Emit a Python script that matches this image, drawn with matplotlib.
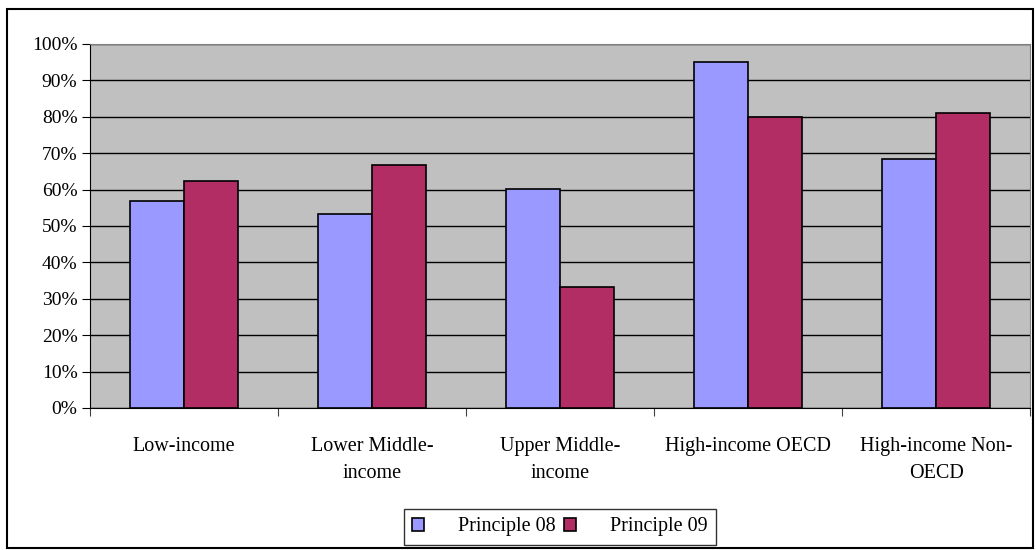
import numpy as np, matplotlib
matplotlib.use("Agg"); import matplotlib.pyplot as plt
from matplotlib.patches import Rectangle
from matplotlib.ticker import PercentFormatter

categories = ["Low-income", "Lower Middle-\nincome", "Upper Middle-\nincome",
              "High-income OECD", "High-income Non-\nOECD"]
principle_08 = [56.9, 53.2, 60.2, 95.0, 68.5]
principle_09 = [62.4, 66.7, 33.2, 80.0, 81.0]
series_names = ["Principle 08", "Principle 09"]

plt.rcParams['font.family'] = ['Liberation Serif', 'DejaVu Serif']
fig = plt.figure(figsize=(10.36, 5.5), dpi=100)
fig.patches.append(Rectangle((0.007, 0.004), 0.99, 0.98, transform=fig.transFigure,
                             fill=False, ec='black', lw=1.5))
ax = fig.add_axes([90/1036, 1-408/550, 940/1036, 364/550])
ax.set_facecolor('#c0c0c0')

x = np.arange(len(categories))
w = 1/3.5
ax.bar(x - w/2, principle_08, w, color='#9999ff', ec='black', lw=1.2, label=series_names[0], zorder=3)
ax.bar(x + w/2, principle_09, w, color='#b12d63', ec='black', lw=1.2, label=series_names[1], zorder=3)

ax.set_xlim(-0.5, len(categories) - 0.5)
ax.set_ylim(0, 100)
ax.set_yticks(np.arange(0, 101, 10))
ax.yaxis.set_major_formatter(PercentFormatter(decimals=0))
ax.grid(axis='y', color='black', lw=1, zorder=1)
ax.set_xticks(np.arange(-0.5, len(categories), 1))
ax.set_xticklabels([])
ax.set_xticks(x, minor=True)
ax.set_xticklabels(categories, minor=True, fontsize=14.5, linespacing=1.55)
ax.tick_params(axis='x', which='minor', length=0, pad=21)
ax.tick_params(axis='x', which='major', length=6, color='#404040', direction='out')
ax.tick_params(axis='y', length=6, labelsize=14, direction='out', pad=3)
for s in ['top', 'right']:
    ax.spines[s].set_color('#808080')
for s in ['left', 'bottom']:
    ax.spines[s].set_color('black')

leg = fig.legend(loc='center', bbox_to_anchor=(560/1036, 1-527/550), ncol=2, fontsize=14.5,
                 frameon=True, fancybox=False, edgecolor='black', handlelength=0.6,
                 handleheight=0.6, handletextpad=1.7, columnspacing=0.4, borderpad=0.4)
leg.get_frame().set_linewidth(1)

fig.savefig("out.png", dpi=100)
